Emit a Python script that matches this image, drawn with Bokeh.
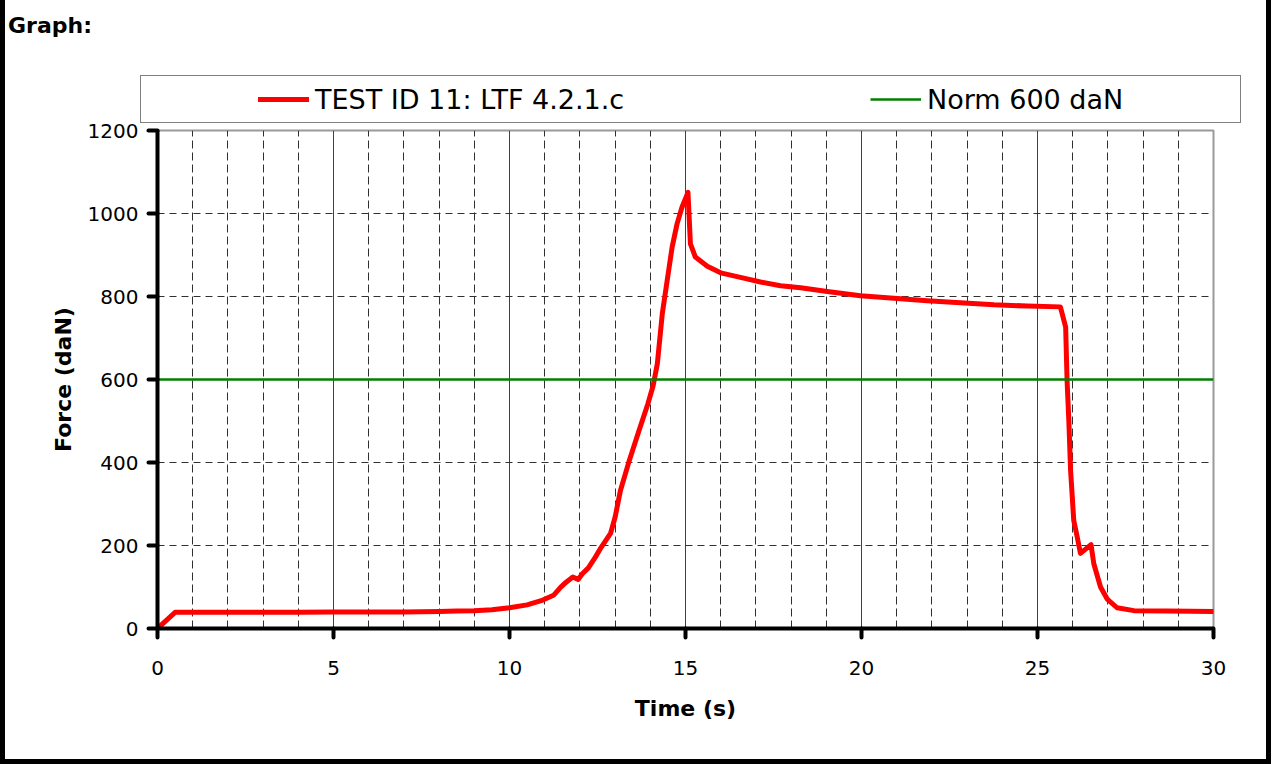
from bokeh.plotting import figure
from bokeh.layouts import column
from bokeh.models import Range1d, FixedTicker, Legend, LegendItem
from bokeh.embed import file_html
from bokeh.resources import INLINE

# ---- data ----
time_s = [0, 0.5, 1, 2, 3, 4, 5, 6, 7, 8, 8.5, 9, 9.5, 10, 10.5, 10.9, 11.25,
          11.45, 11.6, 11.8, 11.95, 12.07, 12.24, 12.44, 12.6, 12.87, 13.0,
          13.15, 13.39, 13.68, 13.93, 14.08, 14.2, 14.34, 14.48, 14.62, 14.76,
          14.9, 15.07, 15.14, 15.28, 15.62, 16.0, 16.56, 17.13, 17.7, 18.27,
          19.03, 19.97, 20.92, 21.87, 22.81, 23.76, 24.71, 25.65, 25.8, 25.84,
          25.89, 25.94, 26.03, 26.13, 26.22, 26.52, 26.6, 26.79, 26.98, 27.26,
          27.74, 28.69, 30]
force_dan = [0, 39, 39, 39, 39, 39, 39.5, 39.5, 40, 41, 42, 43, 45, 50, 57, 67,
             80, 99, 111, 124, 118, 132, 146, 172, 195, 229, 268, 332, 401, 477,
             541, 585, 638, 758, 839, 919, 975, 1015, 1051, 927, 895, 873, 857,
             846, 835, 826, 821, 812, 802, 796, 790, 785, 780, 777, 775, 726, 598,
             501, 381, 260, 220, 181, 202, 156, 100, 71, 50, 43, 42, 41]
norm_time = [0, 30]
norm_force = [600, 600]
x_ticks = [0, 5, 10, 15, 20, 25, 30]
x_minor_ticks = [1, 2, 3, 4, 6, 7, 8, 9, 11, 12, 13, 14, 16, 17, 18, 19,
                 21, 22, 23, 24, 26, 27, 28, 29]
y_ticks = [0, 200, 400, 600, 800, 1000, 1200]
series_label = "TEST ID 11: LTF 4.2.1.c"
norm_label = "Norm 600 daN"
title_text = "Graph:"
x_title = "Time (s)"
y_title = "Force (daN)"

FONT = "DejaVu Sans"
NBSP = "\u00a0"
RED = "#ff0000"
GREEN = "#008000"

# ---------------- header strip: heading + legend ----------------
top = figure(width=1271, height=132, output_backend="svg", toolbar_location=None,
             x_range=Range1d(-2, -1), y_range=Range1d(-2, -1),
             min_border_left=0, min_border_right=0, min_border_top=0,
             min_border_bottom=0, x_axis_location=None, y_axis_location=None,
             frame_align=False,
             background_fill_color="white", border_fill_color="white",
             styles={"border-left": "5px solid black",
                     "border-right": "5px solid black"})
top.grid.visible = False
top.outline_line_color = None

# legend proxies (the same series, kept out of this strip's view)
k_test = top.line(time_s, force_dan, line_color=RED, line_width=5,
                  line_cap="round")
k_norm = top.line(norm_time, norm_force, line_color=GREEN, line_width=2.5)
k_blank = top.line(norm_time, norm_force, line_alpha=0)

legend = Legend(
    items=[LegendItem(label=NBSP, renderers=[k_blank]),
           LegendItem(label=series_label, renderers=[k_test]),
           LegendItem(label=NBSP * 22, renderers=[k_blank]),
           LegendItem(label=norm_label, renderers=[k_norm]),
           LegendItem(label=NBSP, renderers=[k_blank])],
    location=(135, 9), orientation="horizontal", padding=7, margin=0,
    spacing=0, glyph_width=51, glyph_height=32, label_height=32,
    label_width=53, label_standoff=6,
    label_text_font=FONT, label_text_font_size="27px", label_text_color="black",
    border_line_color="black", border_line_width=1,
    background_fill_color="white", background_fill_alpha=1)
top.add_layout(legend)

heading = Legend(
    items=[LegendItem(label=title_text, renderers=[k_blank])],
    location=(2, 94), orientation="horizontal", padding=0, margin=0,
    glyph_width=1, glyph_height=26, label_height=26, label_width=0,
    label_standoff=0,
    label_text_font=FONT, label_text_font_size="22px",
    label_text_font_style="bold", label_text_color="black",
    border_line_color=None, background_fill_alpha=0)
top.add_layout(heading)

# ---------------- main chart ----------------
p = figure(width=1271, height=646, output_backend="svg", toolbar_location=None,
           x_range=Range1d(0, 30), y_range=Range1d(0, 1200),
           min_border_left=152, min_border_right=63,
           min_border_top=12, min_border_bottom=136,
           frame_align=False, margin=(-14, 0, 0, 0),
           background_fill_color="white", border_fill_color="white",
           border_fill_alpha=0,
           styles={"border-left": "5px solid black",
                   "border-right": "5px solid black",
                   "border-bottom": "5px solid black"})

p.outline_line_color = "#9a9a9a"
p.outline_line_width = 2

p.xaxis.ticker = FixedTicker(ticks=x_ticks, minor_ticks=x_minor_ticks)
p.yaxis.ticker = FixedTicker(ticks=y_ticks)
p.xgrid.grid_line_color = "#404040"
p.xgrid.grid_line_width = 1
p.xgrid.minor_grid_line_color = "#303030"
p.xgrid.minor_grid_line_width = 1
p.xgrid.minor_grid_line_dash = "8 4"
p.ygrid.grid_line_color = "#303030"
p.ygrid.grid_line_width = 1
p.ygrid.grid_line_dash = "7 5"

for ax in (p.xaxis[0], p.yaxis[0]):
    ax.axis_line_color = "black"
    ax.axis_line_width = 4
    ax.major_tick_line_color = "black"
    ax.major_tick_line_width = 4
    ax.major_tick_line_cap = "round"
    ax.major_tick_out = 9
    ax.major_tick_in = 0
    ax.minor_tick_line_color = None
    ax.major_label_text_font = FONT
    ax.major_label_text_font_size = "20px"
    ax.major_label_text_color = "black"
    ax.axis_label_text_font = FONT
    ax.axis_label_text_font_size = "22px"
    ax.axis_label_text_font_style = "bold"
    ax.axis_label_text_color = "black"

p.xaxis.axis_label = x_title
p.yaxis.axis_label = y_title
p.yaxis.major_label_standoff = 10
p.xaxis.major_label_standoff = 23
p.yaxis.axis_label_standoff = 9
p.xaxis.axis_label_standoff = 18

p.line(time_s, force_dan, line_color=RED, line_width=5,
       line_join="round", line_cap="round")
p.line(norm_time, norm_force, line_color=GREEN, line_width=2.5)

open("out.html", "w").write(file_html(column(top, p, spacing=0), INLINE))
